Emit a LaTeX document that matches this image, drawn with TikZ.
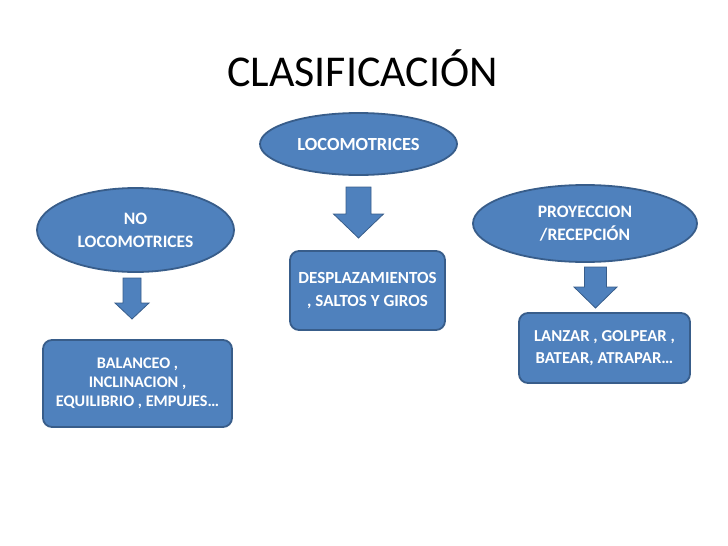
\documentclass[tikz,border=0pt]{standalone}
\usepackage{fontspec}
\setmainfont{Carlito}
\usetikzlibrary{shapes.geometric}

\definecolor{azul}{HTML}{4F81BD}
\definecolor{bordeazul}{HTML}{385D8A}

\tikzstyle{oval}=[ellipse,draw=bordeazul,line width=1.8pt,fill=azul,text=white,align=center,inner sep=0pt,font=\bfseries\fontsize{17.5}{23}\selectfont]
\tikzstyle{caja}=[rectangle,rounded corners=9pt,draw=bordeazul,line width=1.8pt,fill=azul,text=white,align=center,inner sep=0pt,font=\bfseries\fontsize{17}{22.5}\selectfont]
\tikzstyle{flecha}=[draw=bordeazul,line width=0.8pt,fill=azul]
\tikzstyle{titulo}=[font=\fontsize{44}{52}\selectfont]
\newcommand{\px}{1pt}

\begin{document}
\begin{tikzpicture}[x=\px, y=-\px]
    \useasboundingbox (0,0) rectangle (728,546);
    % Title
    \node[titulo] (titulo) at (362.5,68) {CLASIFICACIÓN};
    % The three kinds, as ovals
    \node[oval,minimum width=197,minimum height=62,font=\bfseries\fontsize{18.5}{23}\selectfont] (loco) at (358.5,144) {LOCOMOTRICES};
    \node[oval,minimum width=197,minimum height=84] (noloco) at (135.5,230) {NO\\LOCOMOTRICES};
    \node[oval,minimum width=224,minimum height=77,font=\bfseries\fontsize{17.5}{23}\selectfont] (proy) at (585,223.5) {PROYECCION\\/RECEPCIÓN};
    % The examples, as boxes
    \node[caja,minimum width=155,minimum height=79] (despl) at (367.5,290.5) {DESPLAZAMIENTOS\\, SALTOS Y GIROS};
    \node[caja,minimum width=189,minimum height=87,font=\bfseries\fontsize{16.2}{19}\selectfont] (balanceo) at (137.5,383.5) {BALANCEO ,\\INCLINACION ,\\EQUILIBRIO , EMPUJES…};
    \node[caja,minimum width=171,minimum height=70,font=\bfseries\fontsize{16.7}{22}\selectfont] (lanzar) at (604.5,348) {LANZAR , GOLPEAR ,\\BATEAR, ATRAPAR…};
    % Block arrows between them
    \foreach \cx/\top/\base/\tip/\sw/\hw in {132/278/303/319/9/17, 358.5/187/214/238/12.5/25, 595.5/267/287/308/11/21.5}
        \path[flecha] (\cx-\sw,\top) -- (\cx+\sw,\top) -- (\cx+\sw,\base) -- (\cx+\hw,\base)
            -- (\cx,\tip) -- (\cx-\hw,\base) -- (\cx-\sw,\base) -- cycle;
\end{tikzpicture}
\end{document}
